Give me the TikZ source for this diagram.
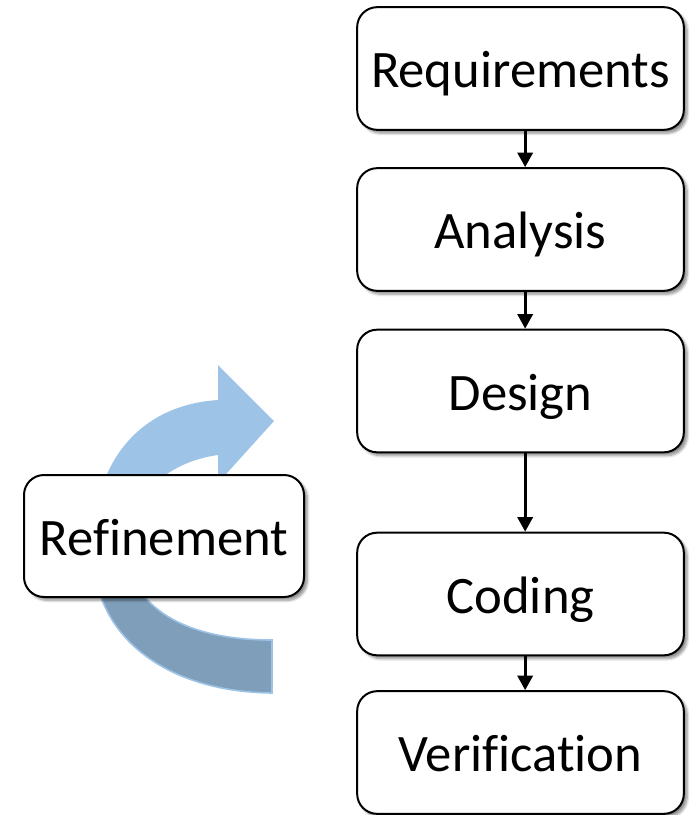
\documentclass[tikz,border=0pt]{standalone}
\usepackage{fontspec}
\setmainfont{Carlito}[Ligatures=NoCommon]
\usetikzlibrary{arrows.meta,shadows.blur}
\definecolor{arrowlight}{HTML}{9DC3E6}
\definecolor{arrowdark}{HTML}{7F9EBA}
\tikzset{
  stagebox/.style={draw=black, line width=1.5pt, fill=white, rounded corners=15pt,
    minimum width=245pt, minimum height=92pt, inner sep=0pt,
    text height=34pt, text depth=5pt,
    font=\fontsize{39.5pt}{47pt}\selectfont,
    blur shadow={shadow xshift=2.5pt, shadow yshift=-2.5pt, shadow blur steps=6, shadow opacity=45}},
  flow/.style={line width=2.1pt, -{Triangle[length=11pt,width=11.5pt]}},
}
\begin{document}
\begin{tikzpicture}[x=0.75pt,y=-0.75pt]
\useasboundingbox (0,0) rectangle (691,815);

% curved refinement arrow
\def\refarrow{(274,421) -- (218,483) -- (218,455)
  .. controls (160,463) and (126,505) .. (127,545)
  .. controls (126,600) and (175,640) .. (272,640)
  -- (272,693)
  .. controls (170,692) and (94,640) .. (93,552)
  .. controls (91,462) and (140,405) .. (218,400)
  -- (218,365) -- cycle}
\fill[arrowlight] \refarrow;
\begin{scope}
  \clip (0,540) rectangle (300,720);
  \fill[arrowdark] \refarrow;
  \draw[arrowlight, line width=1.2pt] \refarrow;
\end{scope}

% process stages
\node[stagebox] (req) at (520.5,68.5) {Requirements};
\node[stagebox] (ana) at (520.5,229.5) {Analysis};
\node[stagebox] (des) at (520.5,391) {Design};
\node[stagebox] (cod) at (520.5,594) {Coding};
\node[stagebox] (ver) at (520.5,752.5) {Verification};
\node[stagebox, minimum width=210pt, minimum height=91.5pt] (ref) at (164,536) {Refinement};

% connectors
\draw[flow] ([xshift=3.5pt]req.south) -- ([xshift=3.5pt]ana.north);
\draw[flow] ([xshift=3.5pt]ana.south) -- ([xshift=3.5pt]des.north);
\draw[flow] ([xshift=3.5pt]des.south) -- ([xshift=3.5pt]cod.north);
\draw[flow] ([xshift=3.5pt]cod.south) -- ([xshift=3.5pt]ver.north);
\end{tikzpicture}
\end{document}
